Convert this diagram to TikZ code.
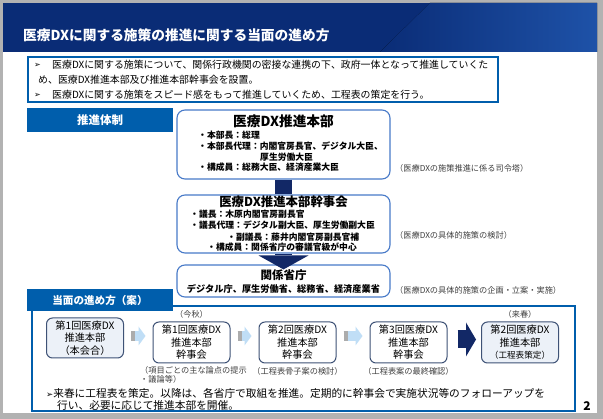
\documentclass[tikz,border=0pt]{standalone}
\usepackage{fontspec}
\setmainfont{Noto Sans CJK JP}
\newfontfamily\symfont{DejaVu Sans}
\usepackage{tikz}
\usetikzlibrary{arrows.meta, positioning, calc}

\definecolor{navy}{RGB}{10,44,118}
\definecolor{navylight}{RGB}{30,82,168}
\definecolor{labelblue}{RGB}{0,94,172}
\definecolor{boxblue}{RGB}{72,122,200}
\definecolor{arrownavy}{RGB}{18,40,102}
\definecolor{stepedge}{RGB}{62,82,118}
\definecolor{stepfill}{RGB}{236,241,248}
\definecolor{arrowlight}{RGB}{192,222,246}
\definecolor{arrowgray}{RGB}{172,172,172}
\definecolor{notegray}{RGB}{64,64,64}

\tikzstyle{org} = [rectangle, rounded corners=8pt, draw=boxblue, line width=1.1pt, fill=white, minimum width=213pt, inner sep=0pt]
\tikzstyle{orgtitle} = [inner sep=0pt, font=\fontsize{13.7}{15}\selectfont\bfseries]
\tikzstyle{member} = [anchor=west, inner sep=0pt, font=\fontsize{8.8}{10}\selectfont\bfseries]
\tikzstyle{note} = [anchor=west, inner sep=0pt, text=notegray, font=\fontsize{8.2}{9.2}\selectfont]
\tikzstyle{headbar} = [rectangle, fill=labelblue, text=white, minimum width=146pt, inner sep=0pt]
\tikzstyle{meeting} = [rectangle, rounded corners=6pt, draw=stepedge, line width=1pt, fill=white, minimum width=77pt, minimum height=41pt, align=center, inner sep=0pt, font=\fontsize{10.2}{12.5}\selectfont]
\tikzstyle{bar} = [line width=17pt, draw=arrownavy]
\tikzstyle{arrow} = [line width=17pt, draw=arrownavy, -{Triangle[width=50pt, length=14pt, line width=0pt]}]
\tikzstyle{bigarrow} = [line width=18pt, draw=arrownavy, -{Triangle[width=34pt, length=10pt, line width=0pt]}]
\tikzstyle{lightarrow} = [line width=10pt, draw=arrowlight, -{Triangle[width=19pt, length=7pt, line width=0pt]}, shorten <=7pt, shorten >=7pt]
\tikzstyle{graystem} = [line width=10pt, draw=arrowgray]

\begin{document}
\begin{tikzpicture}[x=1pt, y=-1pt]
        \useasboundingbox (0,0) rectangle (603,419);
        % page and header
        \fill[gray!60] (0,0) rectangle (603,419);
        \fill[white] (3,3) rectangle (597,413);
        \fill[navy] (3,3) rectangle (597,52);
        \fill[left color=navy, right color=navylight] (430,3) -- (597,3) -- (597,52) -- (380,52) -- cycle;
        \node[anchor=west, inner sep=0pt, text=white, font=\fontsize{13.7}{15}\selectfont\bfseries] (TITLE) at (23,35) {医療DXに関する施策の推進に関する当面の進め方};

        % intro
        \node[rectangle, draw=labelblue, line width=1.1pt, minimum width=470pt, minimum height=45pt] (INTRO) at (263,79.5) {};
        \node[anchor=west, inner sep=0pt, font=\fontsize{9.9}{11}\selectfont] (INTRO1) at (34,65) {{\symfont\fontsize{8}{9}\selectfont ➢}};
        \node[anchor=west, inner sep=0pt, font=\fontsize{9.9}{11}\selectfont] (INTRO1T) at (52,65) {医療DXに関する施策について、関係行政機関の密接な連携の下、政府一体となって推進していくた};
        \node[anchor=west, inner sep=0pt, font=\fontsize{9.9}{11}\selectfont] (INTRO2T) at (38,80) {め、医療DX推進本部及び推進本部幹事会を設置。};
        \node[anchor=west, inner sep=0pt, font=\fontsize{9.9}{11}\selectfont] (INTRO3) at (34,95) {{\symfont\fontsize{8}{9}\selectfont ➢}};
        \node[anchor=west, inner sep=0pt, font=\fontsize{9.9}{11}\selectfont] (INTRO3T) at (52,95) {医療DXに関する施策をスピード感をもって推進していくため、工程表の策定を行う。};

        % organisation
        \node[headbar, minimum height=24pt, font=\fontsize{11.5}{13}\selectfont\bfseries] (TAISEI) at (100,120) {推進体制};

        \node[org, minimum height=69pt] (HONBU) at (283.5,144.5) {};
        \node[org, minimum height=58pt] (KANJI) at (283.5,224) {};
        \node[org, minimum height=32pt] (SHOCHO) at (283.5,281) {};

        \draw[bar] (HONBU) -- (KANJI);
        \draw[arrow] (KANJI) -- ([yshift=-5pt]SHOCHO.north);

        \node[orgtitle] (HONBUT) at (283.5,121) {医療DX推進本部};
        \node[member] (HONBU1) at (198,135) {・本部長：総理};
        \node[member] (HONBU2) at (198,146.5) {・本部長代理：内閣官房長官、デジタル大臣、};
        \node[member] (HONBU3) at (260,157) {厚生労働大臣};
        \node[member] (HONBU4) at (198,167.5) {・構成員：総務大臣、経済産業大臣};

        \node[orgtitle, font=\fontsize{12.4}{14}\selectfont\bfseries] (KANJIT) at (283.5,201.5) {医療DX推進本部幹事会};
        \node[member] (KANJI1) at (190,214.3) {・議長：木原内閣官房副長官};
        \node[member] (KANJI2) at (190,225) {・議長代理：デジタル副大臣、厚生労働副大臣};
        \node[member] (KANJI3) at (227,236.7) {・副議長：藤井内閣官房副長官補};
        \node[member] (KANJI4) at (207,246.7) {・構成員：関係省庁の審議官級が中心};

        \node[orgtitle, font=\fontsize{11.5}{13}\selectfont\bfseries] (SHOCHOT) at (283.5,275.5) {関係省庁};
        \node[member, anchor=center, font=\fontsize{9.2}{10}\selectfont\bfseries] (SHOCHO1) at (283.5,288.5) {デジタル庁、厚生労働省、総務省、経済産業省};

        \node[note] (HONBUN) at (395,168) {（医療DXの施策推進に係る司令塔）};
        \node[note] (KANJIN) at (395,235) {（医療DXの具体的施策の検討）};
        \node[note] (SHOCHON) at (395,290) {（医療DXの具体的施策の企画・立案・実施）};

        % schedule
        \node[rectangle, draw=labelblue, line width=1.1pt, minimum width=543pt, minimum height=105pt] (PLAN) at (303.5,358.5) {};
        \node[headbar, minimum height=22pt, font=\fontsize{10.6}{12}\selectfont\bfseries] (SUSUME) at (100,300) {当面の進め方（案）};

        \node[meeting, fill=stepfill, minimum height=40pt] (BA) at (85,338) {第1回医療DX\\推進本部\\（本会合）};
        \node[meeting] (BB) at (191.5,342.5) {第1回医療DX\\推進本部\\幹事会};
        \node[meeting] (BC) at (297.5,342.5) {第2回医療DX\\推進本部\\幹事会};
        \node[meeting] (BD) at (408.5,342.5) {第3回医療DX\\推進本部\\幹事会};
        \node[meeting, fill=stepfill] (BE) at (520,342.5) {第2回医療DX\\推進本部\\{\fontsize{8.6}{10}\selectfont（工程表策定）}};

        \draw[lightarrow] ([yshift=2pt]BA.east) -- ([yshift=2pt]BA.east -| BB.west);
        \draw[graystem] ([xshift=7pt, yshift=2pt]BA.east) -- ++(4,0);
        \draw[lightarrow] ([yshift=6.5pt]BB.east) -- ([yshift=6.5pt]BB.east -| BC.west);
        \draw[graystem] ([xshift=7pt, yshift=6.5pt]BB.east) -- ++(4,0);
        \draw[lightarrow] ([yshift=6.5pt]BC.east) -- ([yshift=6.5pt]BC.east -| BD.west);
        \draw[graystem] ([xshift=7pt, yshift=6.5pt]BC.east) -- ++(4,0);
        \draw[bigarrow, shorten <=10pt, shorten >=5pt] ([yshift=3pt]BD.east) -- ([yshift=3pt]BD.east -| BE.west);

        \node[note, above=3pt of BB] (KONSHU) {（今秋）};
        \node[note, above=3pt of BE] (RAISHUN) {（来春）};
        \node[note, align=left, anchor=north west] (BBN) at (140,366) {（項目ごとの主な論点の提示\\・議論等）};
        \node[note, below=4pt of BC] (BCN) {（工程表骨子案の検討）};
        \node[note, below=3.5pt of BD] (BDN) {（工程表案の最終確認）};

        \node[anchor=west, inner sep=0pt, font=\fontsize{10.7}{12}\selectfont] (NEXT1) at (46,393) {{\symfont\fontsize{8.5}{9}\selectfont ➢}来春に工程表を策定。以降は、各省庁で取組を推進。定期的に幹事会で実施状況等のフォローアップを};
        \node[anchor=west, inner sep=0pt, font=\fontsize{10.7}{12}\selectfont] (NEXT2) at (57,405) {行い、必要に応じて推進本部を開催。};

        \node[inner sep=0pt, font=\fontsize{12}{14}\selectfont\bfseries] (PAGE) at (587,406) {2};
    \end{tikzpicture}
\end{document}
